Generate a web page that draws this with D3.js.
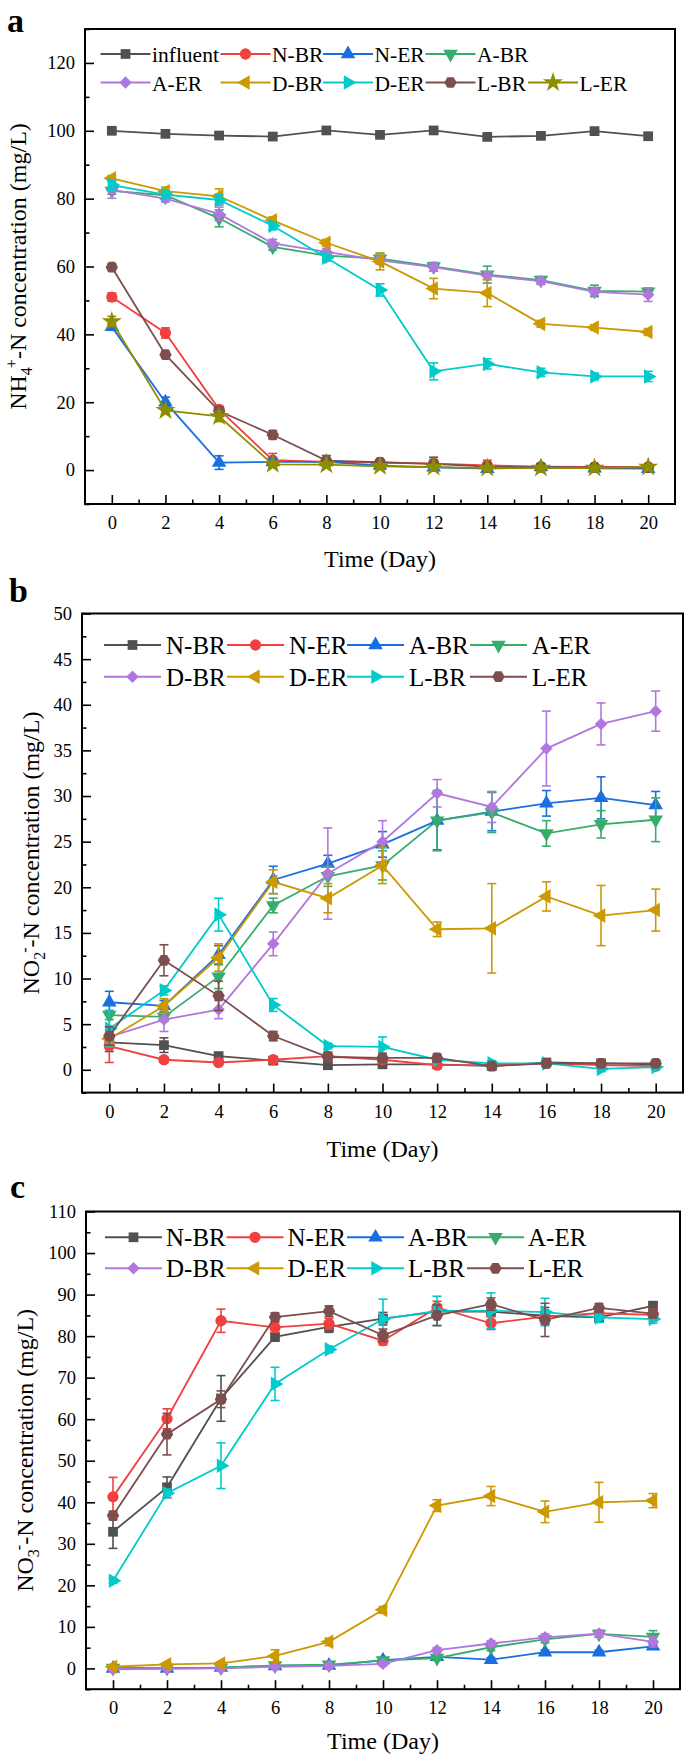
<!DOCTYPE html>
<html><head><meta charset="utf-8">
<script src="https://cdn.jsdelivr.net/npm/d3@7"></script>
<style>
body{margin:0;background:#fff}
svg{display:block}
text{font-family:"Liberation Serif","Times New Roman",serif;fill:#000}
</style></head>
<body><svg id="chart" width="685" height="1758"></svg>
<script>
// ---------------- DATA ----------------
const days = [0, 2, 4, 6, 8, 10, 12, 14, 16, 18, 20];
const xTickValues = [0, 2, 4, 6, 8, 10, 12, 14, 16, 18, 20];

// Panel a : NH4+-N
const namesA = ["influent", "N-BR", "N-ER", "A-BR", "A-ER", "D-BR", "D-ER", "L-BR", "L-ER"];
const yTicksA = [0, 20, 40, 60, 80, 100, 120];
const a_influent = [100.0, 99.1, 98.6, 98.3, 100.1, 98.8, 100.1, 98.2, 98.5, 99.9, 98.4];
const a_influent_err = [0.6, 0.6, 0.6, 0.6, 0.6, 0.6, 0.6, 0.6, 0.6, 0.6, 0.6];
const a_NBR = [51.0, 40.4, 17.9, 2.9, 2.4, 2.2, 1.9, 1.4, 1.0, 0.9, 0.9];
const a_NBR_err = [1.2, 1.5, 1.0, 2.0, 1.0, 0.8, 1.2, 1.5, 0.8, 0.8, 0.6];
const a_NER = [42.2, 20.0, 2.2, 2.4, 2.4, 1.3, 0.8, 0.4, 0.9, 0.5, 0.4];
const a_NER_err = [1.0, 1.5, 2.0, 1.0, 1.0, 0.8, 0.8, 0.8, 1.0, 0.8, 0.8];
const a_ABR = [82.3, 81.0, 74.2, 65.8, 63.2, 62.3, 60.0, 57.6, 56.0, 52.8, 52.6];
const a_ABR_err = [1.0, 1.0, 2.5, 1.0, 1.0, 1.5, 1.2, 2.5, 1.0, 1.7, 1.0];
const a_AER = [82.6, 80.0, 75.5, 66.8, 64.3, 61.8, 59.8, 57.3, 55.7, 52.5, 51.7];
const a_AER_err = [2.5, 1.0, 2.0, 1.2, 1.0, 1.0, 1.2, 1.2, 1.0, 1.0, 2.0];
const a_DBR = [86.0, 82.2, 80.7, 73.6, 67.0, 61.5, 53.5, 52.2, 43.1, 42.0, 40.7];
const a_DBR_err = [0.8, 1.2, 2.2, 1.0, 1.0, 2.5, 3.0, 4.0, 1.0, 0.8, 1.0];
const a_DER = [84.0, 81.2, 79.6, 72.0, 62.6, 53.1, 29.1, 31.3, 28.8, 27.6, 27.6];
const a_DER_err = [1.5, 1.0, 1.5, 1.2, 1.0, 1.8, 2.5, 1.5, 1.2, 1.0, 1.5];
const a_LBR = [59.8, 34.0, 17.4, 10.4, 2.8, 2.3, 1.8, 1.0, 0.8, 0.8, 0.7];
const a_LBR_err = [1.0, 1.0, 1.0, 1.2, 1.5, 0.8, 2.0, 1.0, 0.5, 0.5, 0.5];
const a_LER = [43.8, 17.6, 15.8, 1.7, 1.6, 1.1, 0.9, 0.6, 0.6, 0.6, 0.9];
const a_LER_err = [1.5, 0.8, 1.5, 0.8, 0.6, 0.5, 0.5, 0.5, 0.5, 0.5, 0.5];

// Panel b : NO2--N
const namesBC = ["N-BR", "N-ER", "A-BR", "A-ER", "D-BR", "D-ER", "L-BR", "L-ER"];
const yTicksB = [0, 5, 10, 15, 20, 25, 30, 35, 40, 45, 50];
const b_NBR = [3.0, 2.7, 1.5, 1.0, 0.5, 0.6, 0.6, 0.4, 0.8, 0.7, 0.6];
const b_NBR_err = [1.0, 0.8, 0.3, 0.3, 0.3, 0.3, 0.3, 0.3, 0.4, 0.3, 0.3];
const b_NER = [2.6, 1.1, 0.8, 1.1, 1.5, 1.1, 0.5, 0.5, 0.7, 0.5, 0.4];
const b_NER_err = [1.8, 0.3, 0.3, 0.3, 0.4, 0.4, 0.3, 0.3, 0.4, 0.3, 0.3];
const b_ABR = [7.4, 7.0, 12.6, 20.8, 22.6, 24.7, 27.3, 28.3, 29.2, 29.8, 29.0];
const b_ABR_err = [1.2, 0.6, 1.0, 1.5, 0.9, 1.4, 3.2, 2.1, 1.4, 2.3, 1.5];
const b_AER = [6.0, 5.8, 10.2, 18.0, 21.2, 22.4, 27.3, 28.2, 25.9, 26.9, 27.4];
const b_AER_err = [0.5, 0.5, 1.3, 0.8, 1.1, 1.6, 3.3, 2.2, 1.4, 1.5, 2.4];
const b_DBR = [3.6, 5.5, 6.6, 13.8, 21.5, 25.0, 30.3, 28.8, 35.2, 37.9, 39.3];
const b_DBR_err = [0.5, 1.3, 1.0, 1.3, 5.0, 2.3, 1.5, 1.7, 4.1, 2.3, 2.2];
const b_DER = [3.4, 7.0, 12.3, 20.6, 18.8, 22.4, 15.4, 15.5, 19.0, 16.9, 17.5];
const b_DER_err = [0.5, 0.8, 1.5, 1.3, 1.6, 2.0, 0.8, 4.9, 1.6, 3.3, 2.3];
const b_LBR = [4.5, 8.7, 17.0, 7.1, 2.6, 2.5, 1.1, 0.7, 0.7, 0.1, 0.3];
const b_LBR_err = [2.0, 0.5, 1.8, 0.7, 0.3, 1.1, 0.3, 0.3, 0.3, 0.3, 0.3];
const b_LER = [3.7, 12.0, 8.1, 3.7, 1.4, 1.3, 1.3, 0.4, 0.7, 0.7, 0.7];
const b_LER_err = [1.0, 1.7, 1.6, 0.5, 0.5, 0.5, 0.4, 0.3, 0.3, 0.3, 0.3];

// Panel c : NO3--N
const yTicksC = [0, 10, 20, 30, 40, 50, 60, 70, 80, 90, 100, 110];
const c_NBR = [32.9, 43.6, 65.0, 79.8, 82.2, 84.2, 85.9, 85.9, 84.9, 84.5, 87.3];
const c_NBR_err = [4.0, 2.5, 5.5, 1.0, 1.3, 1.5, 1.5, 2.0, 2.0, 1.0, 1.0];
const c_NER = [41.3, 60.1, 83.7, 82.1, 83.0, 78.9, 86.9, 83.1, 84.7, 85.5, 85.1];
const c_NER_err = [4.7, 2.4, 2.8, 1.2, 1.3, 1.0, 1.5, 1.5, 1.5, 1.0, 1.5];
const c_ABR = [0.0, 0.0, 0.2, 0.6, 0.7, 2.0, 2.8, 2.1, 3.9, 3.9, 5.3];
const c_ABR_err = [0.4, 0.4, 0.4, 0.4, 0.4, 0.5, 0.5, 0.5, 0.5, 0.5, 0.6];
const c_AER = [0.1, 0.1, 0.2, 0.7, 0.9, 1.9, 2.5, 5.1, 7.0, 8.3, 7.6];
const c_AER_err = [0.3, 0.3, 0.3, 0.4, 0.4, 0.5, 0.6, 0.8, 0.8, 0.8, 1.5];
const c_DBR = [-0.2, -0.1, 0.0, 0.4, 0.6, 1.1, 4.4, 6.0, 7.5, 8.4, 6.4];
const c_DBR_err = [0.3, 0.3, 0.3, 0.4, 0.4, 0.5, 0.6, 0.7, 0.8, 0.8, 1.2];
const c_DER = [0.4, 1.0, 1.2, 3.0, 6.4, 14.1, 39.2, 41.5, 37.7, 40.0, 40.4];
const c_DER_err = [0.3, 0.4, 0.4, 1.5, 0.9, 0.8, 1.4, 2.3, 2.6, 4.8, 1.7];
const c_LBR = [21.1, 42.2, 48.8, 68.5, 76.8, 84.1, 86.1, 86.1, 85.8, 84.5, 84.1];
const c_LBR_err = [0.6, 1.0, 5.5, 4.0, 0.8, 4.8, 3.5, 4.3, 3.3, 1.2, 1.0];
const c_LER = [36.8, 56.4, 64.8, 84.6, 86.0, 80.2, 85.0, 87.7, 83.9, 86.8, 85.4];
const c_LER_err = [1.0, 5.0, 2.0, 1.0, 1.3, 1.5, 2.5, 1.5, 4.0, 1.0, 1.0];

// ---------------- STYLE ----------------
const palette = ['#515151', '#F14040', '#1A6FDF', '#37AD6B', '#B177DE', '#CC9900', '#00CBCC', '#7D4E4E', '#8E8E00'];
const shapes = ['square', 'circle', 'triUp', 'triDown', 'diamond', 'triLeft', 'triRight', 'hexagon', 'star'];

const hexagon = {
  draw(ctx, size) {
    const r = Math.sqrt(size * 2 / (3 * Math.sqrt(3)));
    for (let i = 0; i < 6; i++) {
      const a = Math.PI / 3 * i;
      const px = r * Math.cos(a), py = r * Math.sin(a);
      if (i) ctx.lineTo(px, py); else ctx.moveTo(px, py);
    }
    ctx.closePath();
  }
};

function drawMarker(g, shape, cx, cy, color) {
  let type = d3.symbolSquare, size = 95, rot = 0;
  switch (shape) {
    case 'square': type = d3.symbolSquare; size = 95; break;
    case 'circle': type = d3.symbolCircle; size = 100; break;
    case 'triUp': type = d3.symbolTriangle; size = 92; break;
    case 'triDown': type = d3.symbolTriangle; size = 92; rot = 180; break;
    case 'triLeft': type = d3.symbolTriangle; size = 92; rot = -90; break;
    case 'triRight': type = d3.symbolTriangle; size = 92; rot = 90; break;
    case 'diamond': type = d3.symbolSquare; size = 78; rot = 45; break;
    case 'hexagon': type = hexagon; size = 100; break;
    case 'star': type = d3.symbolStar; size = 125; break;
  }
  g.append('path')
    .attr('d', d3.symbol(type, size)())
    .attr('transform', `translate(${cx},${cy}) rotate(${rot})`)
    .attr('fill', color);
}

const svg = d3.select('#chart');

function drawPanel(p) {
  const x = d3.scaleLinear().domain([-1, 21]).range([p.left, p.right]);
  const y = d3.scaleLinear().domain(p.yDomain).range([p.bottom, p.top]);
  const g = svg.append('g');

  // panel letter
  g.append('text').attr('x', p.letterX).attr('y', p.letterY)
    .attr('font-size', 34).attr('font-weight', 'bold').text(p.letter);

  // x axis major / minor
  const xMinor = d3.range(1, 20, 2);
  const gx = g.append('g').attr('transform', `translate(0,${p.bottom})`)
    .call(d3.axisBottom(x).tickValues(xTickValues).tickSize(-9).tickFormat(d3.format('d')));
  gx.selectAll('text').attr('y', 25).attr('dy', null).attr('font-size', 18.5)
    .style('font-family', '"Liberation Serif","Times New Roman",serif');
  const gxm = g.append('g').attr('transform', `translate(0,${p.bottom})`)
    .call(d3.axisBottom(x).tickValues(xMinor).tickSize(-4.5).tickFormat(''));

  // y axis
  const step = p.yTicks[1] - p.yTicks[0];
  const yMinor = d3.range(p.yDomain[0], p.yDomain[1] + 0.001, step / 2).filter(v => !p.yTicks.some(t => Math.abs(t - v) < 1e-6));
  const gy = g.append('g').attr('transform', `translate(${p.left},0)`)
    .call(d3.axisLeft(y).tickValues(p.yTicks).tickSize(-9).tickFormat(d3.format('d')));
  gy.selectAll('text').attr('x', -10).attr('font-size', 18.5)
    .style('font-family', '"Liberation Serif","Times New Roman",serif');
  const gym = g.append('g').attr('transform', `translate(${p.left},0)`)
    .call(d3.axisLeft(y).tickValues(yMinor).tickSize(-4.5).tickFormat(''));

  [gx, gxm, gy, gym].forEach(a => {
    a.select('.domain').remove();
    a.selectAll('line').attr('stroke', '#000').attr('stroke-width', 1.6);
  });

  // frame
  g.append('rect').attr('x', p.left).attr('y', p.top)
    .attr('width', p.right - p.left).attr('height', p.bottom - p.top)
    .attr('fill', 'none').attr('stroke', '#000').attr('stroke-width', 2);

  // x title
  g.append('text').attr('x', (p.left + p.right) / 2).attr('y', p.xTitleY)
    .attr('text-anchor', 'middle').attr('font-size', 24).text('Time (Day)');

  // y title
  const yt = g.append('text')
    .attr('transform', `translate(${p.yTitleX},${(p.top + p.bottom) / 2}) rotate(-90)`)
    .attr('text-anchor', 'middle').attr('font-size', 24);
  p.yTitle.forEach(part => {
    const t = yt.append('tspan').text(part.t);
    if (part.fs) t.attr('font-size', part.fs);
    if (part.dy) t.attr('dy', part.dy);
    if (part.dx) t.attr('dx', part.dx);
  });

  // series
  const line = d3.line().x(d => x(d[0])).y(d => y(d[1]));
  p.series.forEach((s, i) => {
    const color = palette[i], shape = shapes[i];
    const sg = g.append('g');
    const pts = days.map((d, k) => [d, s.values[k], s.err[k]]);
    // error bars
    pts.forEach(([d, v, e]) => {
      const cx = x(d), y1 = y(v - e), y2 = y(v + e);
      sg.append('line').attr('x1', cx).attr('x2', cx).attr('y1', y1).attr('y2', y2)
        .attr('stroke', color).attr('stroke-width', 1.6);
      [y1, y2].forEach(yy => sg.append('line').attr('x1', cx - 4.5).attr('x2', cx + 4.5)
        .attr('y1', yy).attr('y2', yy).attr('stroke', color).attr('stroke-width', 1.6));
    });
    sg.append('path').datum(pts).attr('d', line)
      .attr('fill', 'none').attr('stroke', color).attr('stroke-width', 1.8);
    pts.forEach(([d, v]) => drawMarker(sg, shape, x(d), y(v), color));
  });

  // legend
  p.series.forEach((s, i) => {
    const lg = g.append('g');
    const pos = p.legendPos[i];
    const lx = p.legendCols[pos[1]], ly = p.legendRows[pos[0]];
    lg.append('line').attr('x1', lx).attr('x2', lx + p.legLine).attr('y1', ly).attr('y2', ly)
      .attr('stroke', palette[i]).attr('stroke-width', 2);
    drawMarker(lg, shapes[i], lx + p.legLine / 2, ly, palette[i]);
    lg.append('text').attr('x', lx + p.legText).attr('y', ly + p.legBase)
      .attr('font-size', p.legFont).text(s.name);
  });
}

const panels = [
  {
    letter: 'a', letterX: 7, letterY: 32,
    left: 85, right: 675, top: 29, bottom: 504, yDomain: [-10, 130], yTicks: yTicksA,
    xTitleY: 567, yTitleX: 26,
    yTitle: [{t: 'NH'}, {t: '4', fs: 16, dy: 6}, {t: '+', fs: 16, dy: -15, dx: -1}, {t: '-N concentration (mg/L)', dy: 9}],
    series: [
      {name: namesA[0], values: a_influent, err: a_influent_err},
      {name: namesA[1], values: a_NBR, err: a_NBR_err},
      {name: namesA[2], values: a_NER, err: a_NER_err},
      {name: namesA[3], values: a_ABR, err: a_ABR_err},
      {name: namesA[4], values: a_AER, err: a_AER_err},
      {name: namesA[5], values: a_DBR, err: a_DBR_err},
      {name: namesA[6], values: a_DER, err: a_DER_err},
      {name: namesA[7], values: a_LBR, err: a_LBR_err},
      {name: namesA[8], values: a_LER, err: a_LER_err}
    ],
    legendPos: [[0, 0], [0, 1], [0, 2], [0, 3], [1, 0], [1, 1], [1, 2], [1, 3], [1, 4]],
    legendCols: [100.5, 220.5, 323, 425.5, 528], legendRows: [54, 82.5],
    legLine: 50, legText: 51.5, legBase: 8, legFont: 21.5
  },
  {
    letter: 'b', letterX: 9, letterY: 602,
    left: 82, right: 683, top: 613.5, bottom: 1092.6, yDomain: [-2.5, 50], yTicks: yTicksB,
    xTitleY: 1157, yTitleX: 39,
    yTitle: [{t: 'NO'}, {t: '2', fs: 16, dy: 6}, {t: '-', fs: 16, dy: -15, dx: -1}, {t: '-N concentration (mg/L)', dy: 9}],
    series: namesBC.map((n, i) => ({name: n, values: [b_NBR, b_NER, b_ABR, b_AER, b_DBR, b_DER, b_LBR, b_LER][i], err: [b_NBR_err, b_NER_err, b_ABR_err, b_AER_err, b_DBR_err, b_DER_err, b_LBR_err, b_LER_err][i]})),
    legendPos: [[0, 0], [0, 1], [0, 2], [0, 3], [1, 0], [1, 1], [1, 2], [1, 3]],
    legendCols: [104, 227, 347, 470], legendRows: [645, 676.7],
    legLine: 57, legText: 62, legBase: 9, legFont: 25
  },
  {
    letter: 'c', letterX: 10, letterY: 1198,
    left: 86, right: 680, top: 1211.5, bottom: 1689.2, yDomain: [-5, 110], yTicks: yTicksC,
    xTitleY: 1749, yTitleX: 33,
    yTitle: [{t: 'NO'}, {t: '3', fs: 16, dy: 6}, {t: '-', fs: 16, dy: -15, dx: -1}, {t: '-N concentration (mg/L)', dy: 9}],
    series: namesBC.map((n, i) => ({name: n, values: [c_NBR, c_NER, c_ABR, c_AER, c_DBR, c_DER, c_LBR, c_LER][i], err: [c_NBR_err, c_NER_err, c_ABR_err, c_AER_err, c_DBR_err, c_DER_err, c_LBR_err, c_LER_err][i]})),
    legendPos: [[0, 0], [0, 1], [0, 2], [0, 3], [1, 0], [1, 1], [1, 2], [1, 3]],
    legendCols: [105, 226.5, 347, 467], legendRows: [1237.3, 1268.3],
    legLine: 57, legText: 61, legBase: 9, legFont: 25
  }
];

panels.forEach(drawPanel);
</script>
</body></html>
